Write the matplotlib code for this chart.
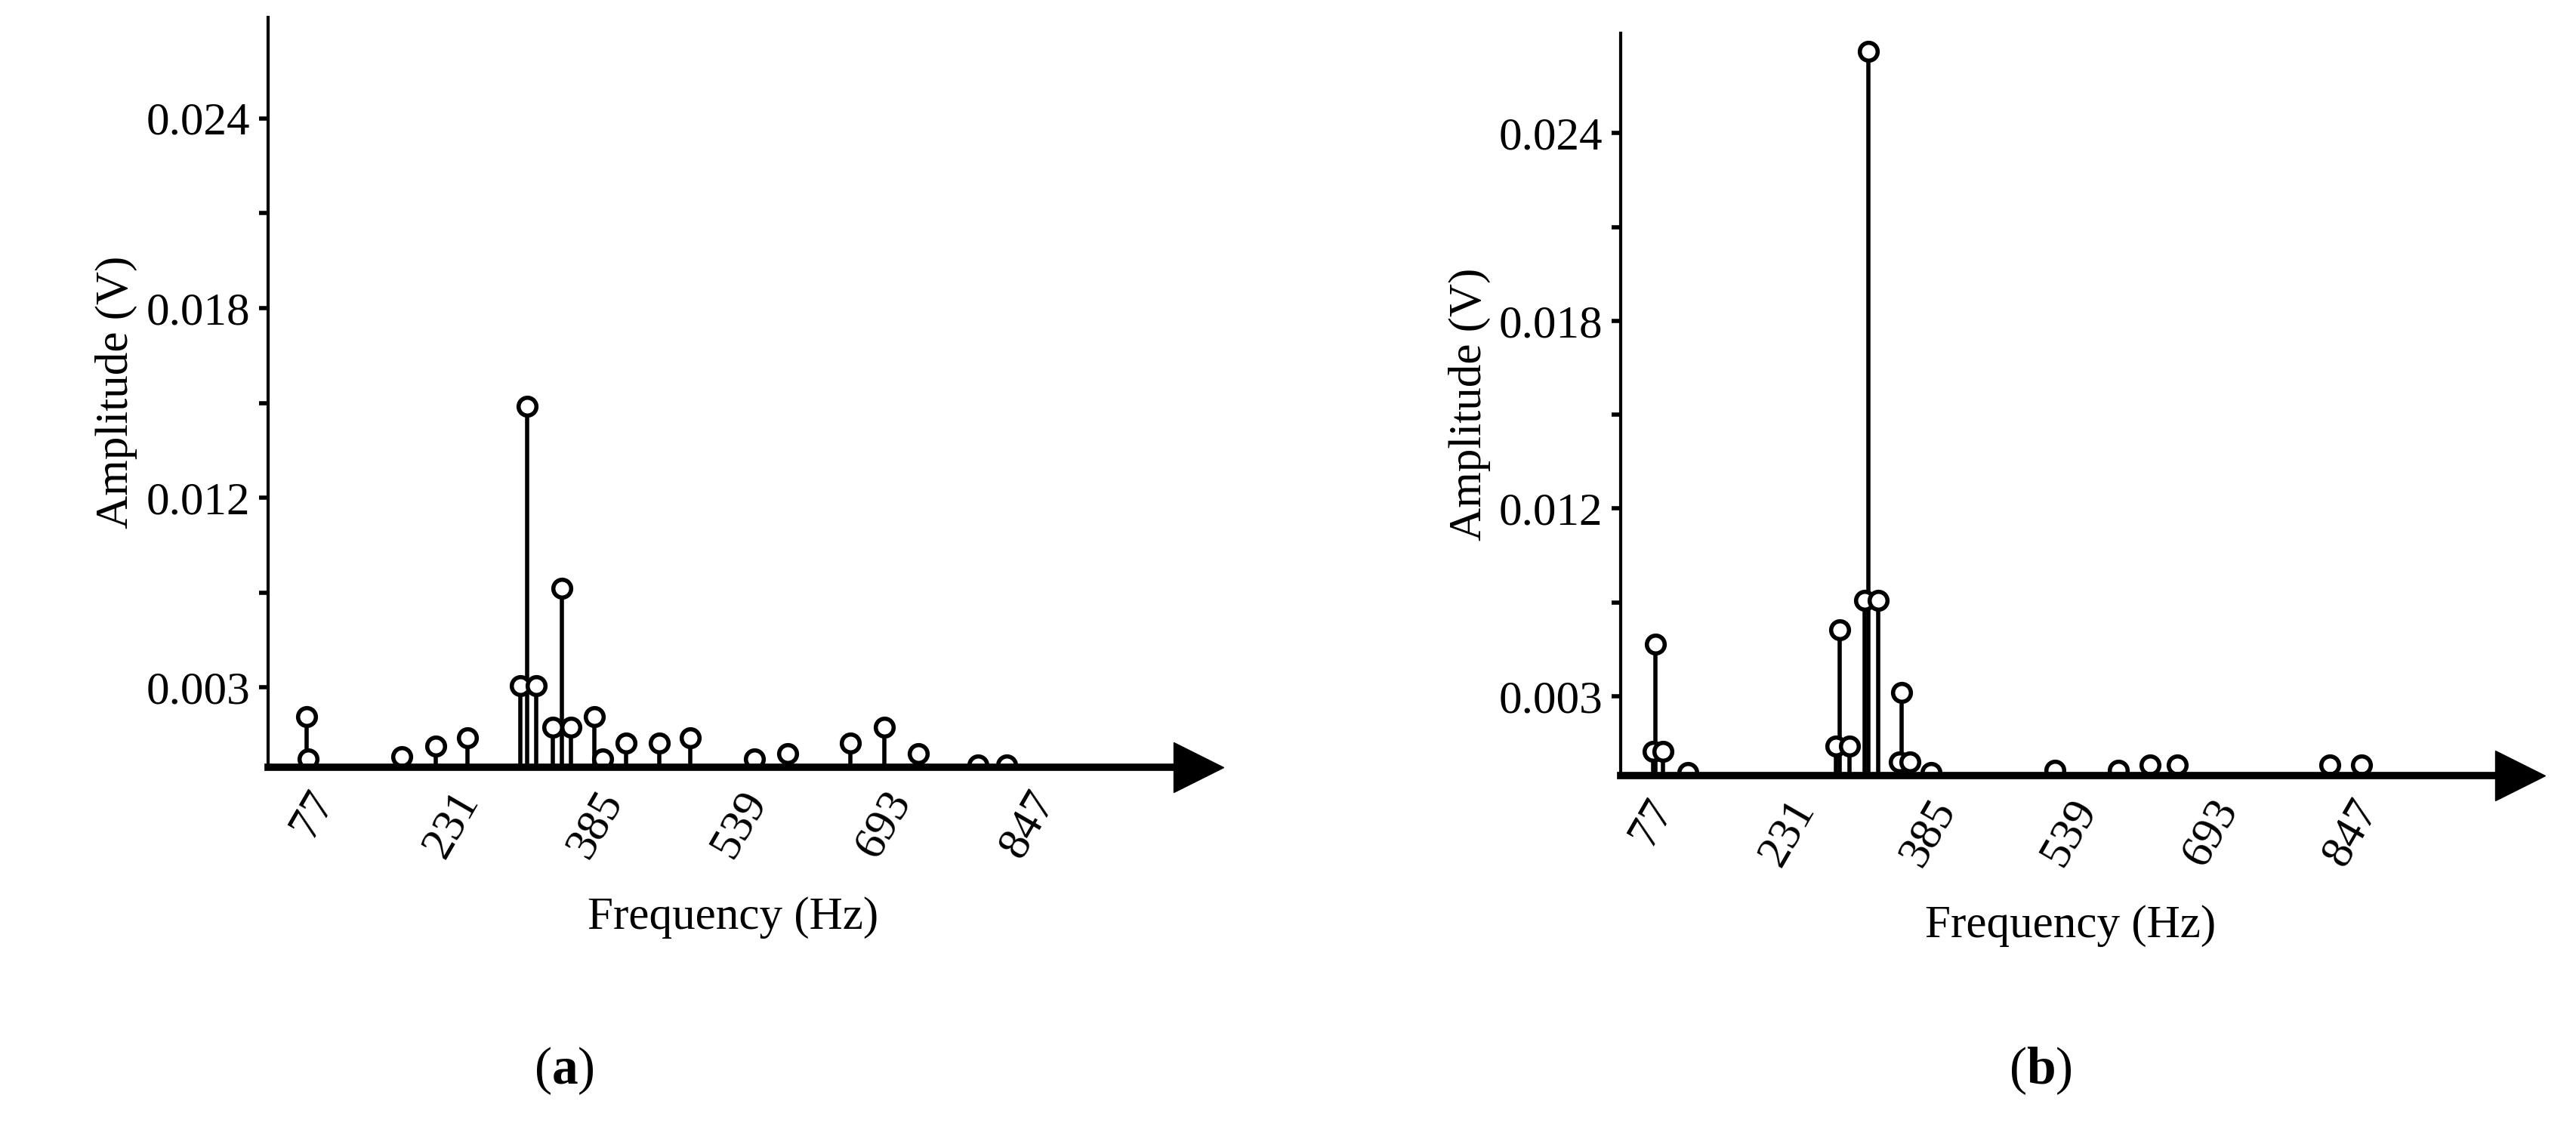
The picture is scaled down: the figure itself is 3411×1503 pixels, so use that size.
import numpy as np
import matplotlib.pyplot as plt

plt.rcParams['font.family'] = ['Liberation Serif', 'DejaVu Serif']
plt.rcParams['mathtext.fontset'] = 'custom'
plt.rcParams['mathtext.bf'] = 'Liberation Serif:bold'
plt.rcParams['mathtext.rm'] = 'Liberation Serif'

# (a) spectrum
freq_a = [77, 79, 179, 215, 249, 306, 313, 323, 340, 350, 360, 385, 394,
          419, 454, 487, 556, 591, 658, 695, 731, 795, 825]
amp_a = [0.0019, 0.0003, 0.0004, 0.0008, 0.0011, 0.0031, 0.0149, 0.0031,
         0.0015, 0.0077, 0.0015, 0.0019, 0.0003, 0.0009, 0.0009, 0.0011,
         0.0003, 0.0005, 0.0009, 0.0015, 0.0005, 0.0001, 0.0001]
# (b) spectrum
freq_b = [85, 88, 96, 123, 285, 289, 300, 316, 320, 331, 354, 357, 366,
          389, 524, 593, 628, 658, 824, 859]
amp_b = [0.0009, 0.0055, 0.0009, 0.0001, 0.0011, 0.0062, 0.0011, 0.0076,
         0.0266, 0.0076, 0.0005, 0.0032, 0.0005, 0.0001, 0.0002, 0.0002,
         0.0004, 0.0004, 0.0004, 0.0004]

x_ticks = [77, 231, 385, 539, 693, 847]
y_ticks = [0.003, 0.012, 0.018, 0.024]
y_minor = [0.0075, 0.015, 0.021]

# the printed amplitude axis is not linear: labels sit at equal steps
amp_knots = [0.0, 0.003, 0.012, 0.018, 0.024, 0.030]
pos_knots = [0.0, 0.42, 1.42, 2.42, 3.42, 4.42]


def fwd(v):
    return np.interp(v, amp_knots, pos_knots)


def inv(v):
    return np.interp(v, pos_knots, amp_knots)


fig = plt.figure(figsize=(34.12, 15.03), dpi=100)
ax_a = fig.add_axes([0.104, 0.324, 0.361, 0.661])
ax_b = fig.add_axes([0.629, 0.317, 0.349, 0.654])

for ax, f, a, xl in [(ax_a, freq_a, amp_a, (36, 1030)),
                     (ax_b, freq_b, amp_b, (50, 1032))]:
    ax.set_yscale('function', functions=(fwd, inv))
    ml, sl, bl = ax.stem(f, a, linefmt='k-', markerfmt='ko', basefmt=' ')
    plt.setp(sl, linewidth=4)
    plt.setp(ml, markersize=17, markerfacecolor='white', markeredgewidth=4)
    ax.set_xlim(*xl)
    ax.set_ylim(0, 0.0272)
    ax.set_yticks(y_ticks)
    ax.set_yticklabels(['0.003', '0.012', '0.018', '0.024'])
    ax.set_yticks(y_minor, minor=True)
    ax.set_xticks(x_ticks)
    ax.set_xticklabels([str(t) for t in x_ticks], rotation=60, ha='right',
                       rotation_mode='anchor')
    ax.tick_params(axis='y', which='both', direction='out', length=9, width=4,
                   labelsize=44, pad=8)
    ax.tick_params(axis='x', length=0, labelsize=44, pad=16)
    ax.spines['top'].set_visible(False)
    ax.spines['right'].set_visible(False)
    ax.spines['left'].set_linewidth(3)
    ax.spines['bottom'].set_linewidth(7)
    ax.plot(1, 0, '>k', ms=48, transform=ax.get_yaxis_transform(), clip_on=False)
    ax.set_xlabel('Frequency (Hz)', fontsize=44, labelpad=30)
    ax.set_ylabel('Amplitude (V)', fontsize=44, labelpad=8)

fig.text(0.219, 0.045, r'($\mathbf{a}$)', fontsize=50, ha='center')
fig.text(0.792, 0.045, r'($\mathbf{b}$)', fontsize=50, ha='center')

fig.savefig('out.png', dpi=100)
